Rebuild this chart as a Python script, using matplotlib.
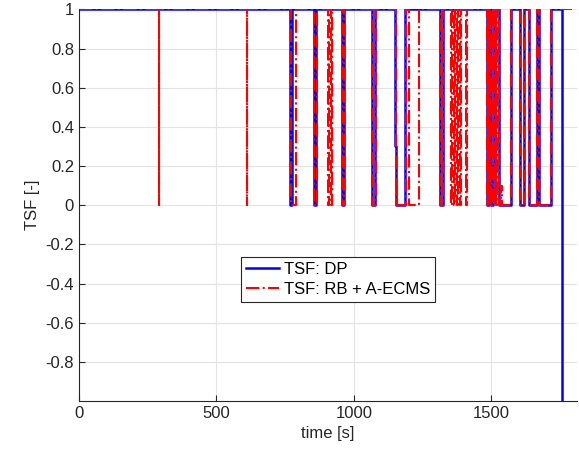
import numpy as np
import matplotlib.pyplot as plt

plt.rcParams['font.family'] = ['Liberation Sans', 'DejaVu Sans']

# DP switching instants [s] and TSF values (step held until next instant)
t_dp = [0, 767, 776, 855, 864, 956, 964, 1065, 1076, 1150, 1152, 1185,
        1315, 1325, 1485, 1492, 1500, 1507, 1511, 1530, 1573, 1604, 1618,
        1636, 1668, 1674, 1719, 1758]
tsf_dp = [1, 0, 1, 0, 1, 0, 1, 0, 1, 0.3, 0, 1,
          0, 1, 0, 1, 0, 0.2, 1, 0, 1, 0, 1,
          0, 1, 0, 1, -1]

# RB + A-ECMS
t_rb = [0, 290, 292, 611, 613, 770, 789, 855, 866, 908, 911, 918, 921,
        957, 965, 1068, 1080, 1152, 1156, 1158, 1190, 1200, 1237,
        1315, 1325, 1355, 1358, 1364, 1368, 1377, 1381, 1386, 1390, 1408, 1413,
        1483, 1487, 1490, 1495, 1500, 1505, 1510, 1514, 1518, 1522,
        1530, 1535, 1539, 1573, 1604, 1618, 1636, 1666, 1674, 1719, 1795]
tsf_rb = [1, 0, 1, 0, 1, 0, 1, 0, 1, 0, 1, 0, 1,
          0, 1, 0, 1, 0, 0.1, 0, 1, 0, 1,
          0, 1, 0, 1, 0, 1, 0, 1, 0, 1, 0, 1,
          0, 1, 0, 1, 0, 1, 0, 1, 0, 1,
          0, 0.1, 0, 1, 0, 1, 0, 1, 0, 1, 1]

fig = plt.figure(figsize=(5.79, 4.58), dpi=100)
ax = fig.add_axes([0.1364, 0.1245, 0.86, 0.855])

ax.plot(t_dp, tsf_dp, color='#0000ff', lw=1.8, drawstyle='steps-post',
        label='TSF: DP')
ax.plot(t_rb, tsf_rb, color='#ff0000', lw=1.5, ls='-.', drawstyle='steps-post',
        label='TSF: RB + A-ECMS')

ax.set_xlim(0, 1812)
ax.set_ylim(-1, 1)
ax.set_xticks([0, 500, 1000, 1500])
ax.set_yticks(np.round(np.arange(-0.8, 1.01, 0.2), 1))
ax.set_yticklabels(['-0.8', '-0.6', '-0.4', '-0.2', '0', '0.2', '0.4', '0.6', '0.8', '1'])
ax.grid(True, color='#e3e3e3', lw=0.8)
ax.set_axisbelow(True)
ax.tick_params(direction='in', labelsize=12, colors='#262626', length=4)
for s in ['top', 'right']:
    ax.spines[s].set_visible(False)
for s in ['left', 'bottom']:
    ax.spines[s].set_color('#262626')

ax.set_xlabel('time [s]', fontsize=12, color='#262626')
ax.set_ylabel('TSF [-]', fontsize=12, color='#262626')

leg = ax.legend(loc='upper left', bbox_to_anchor=(0.3247, 0.367), borderaxespad=0,
                fontsize=12, fancybox=False, framealpha=1, edgecolor='#262626',
                handlelength=2.0, borderpad=0.3, labelspacing=0.3, handletextpad=0.3)
leg.get_frame().set_linewidth(0.8)

fig.savefig('out.png', dpi=100)
